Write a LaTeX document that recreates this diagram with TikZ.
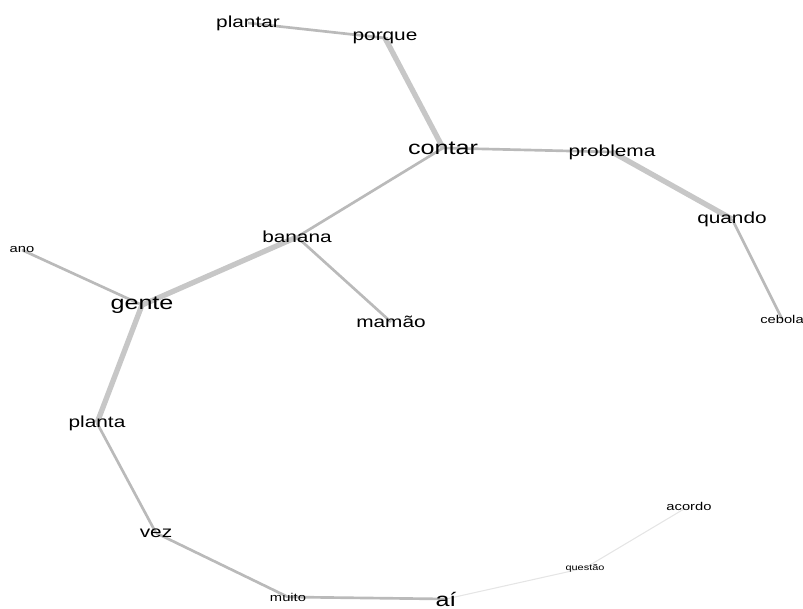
\documentclass[tikz,border=0pt]{standalone}
\usepackage{fontspec}
\setmainfont{Liberation Sans}[FakeStretch=1.3]
\usetikzlibrary{backgrounds}

\tikzset{
  word/.style={inner sep=1pt, text=black, font=\fontsize{12}{12}\selectfont},
  bigword/.style={word, font=\fontsize{14.5}{14.5}\selectfont},
  smallword/.style={word, font=\fontsize{8.5}{8.5}\selectfont},
  tinyword/.style={word, font=\fontsize{6.3}{6.3}\selectfont},
  tie/.style={draw=black!27, line width=2pt},
  thicktie/.style={draw=black!22, line width=4pt},
  thintie/.style={draw=black!10, line width=0.8pt}
}

\begin{document}
\begin{tikzpicture}[x=0.75pt,y=-0.75pt]
\useasboundingbox (0,0) rectangle (803,609);

% Text Nodes
\node[word] (plantar) at (248,23) {plantar};
\node[word] (porque) at (385,38) {porque};
\node[bigword] (contar) at (443,148) {contar};
\node[word] (problema) at (612,152) {problema};
\node[word] (quando) at (732,219) {quando};
\node[smallword] (cebola) at (782,319) {cebola};
\node[word] (banana) at (297,237) {banana};
\node[smallword] (ano) at (22,250) {ano};
\node[bigword] (gente) at (142,305) {gente};
\node[word] (mamao) at (391,322) {mamão};
\node[word] (planta) at (97,423) {planta};
\node[word] (vez) at (156,533) {vez};
\node[smallword] (muito) at (288,597) {muito};
\node[bigword] (ai) at (446,599) {aí};
\node[tinyword] (questao) at (585,568) {questão};
\node[smallword] (acordo) at (689,506) {acordo};

% Ties
\begin{scope}[on background layer]
\draw[tie] (plantar.center) -- (porque.center);
\draw[thicktie] (porque.center) -- (contar.center);
\draw[tie] (contar.center) -- (problema.center);
\draw[thicktie] (problema.center) -- (quando.center);
\draw[tie] (quando.center) -- (cebola.center);
\draw[tie] (contar.center) -- (banana.center);
\draw[thicktie] (banana.center) -- (gente.center);
\draw[tie] (banana.center) -- (mamao.center);
\draw[tie] (ano.center) -- (gente.center);
\draw[thicktie] (gente.center) -- (planta.center);
\draw[tie] (planta.center) -- (vez.center);
\draw[tie] (vez.center) -- (muito.center);
\draw[tie] (muito.center) -- (ai.center);
\draw[thintie] (ai.center) -- (questao.center);
\draw[thintie] (questao.center) -- (acordo.center);
\end{scope}
\end{tikzpicture}
\end{document}
